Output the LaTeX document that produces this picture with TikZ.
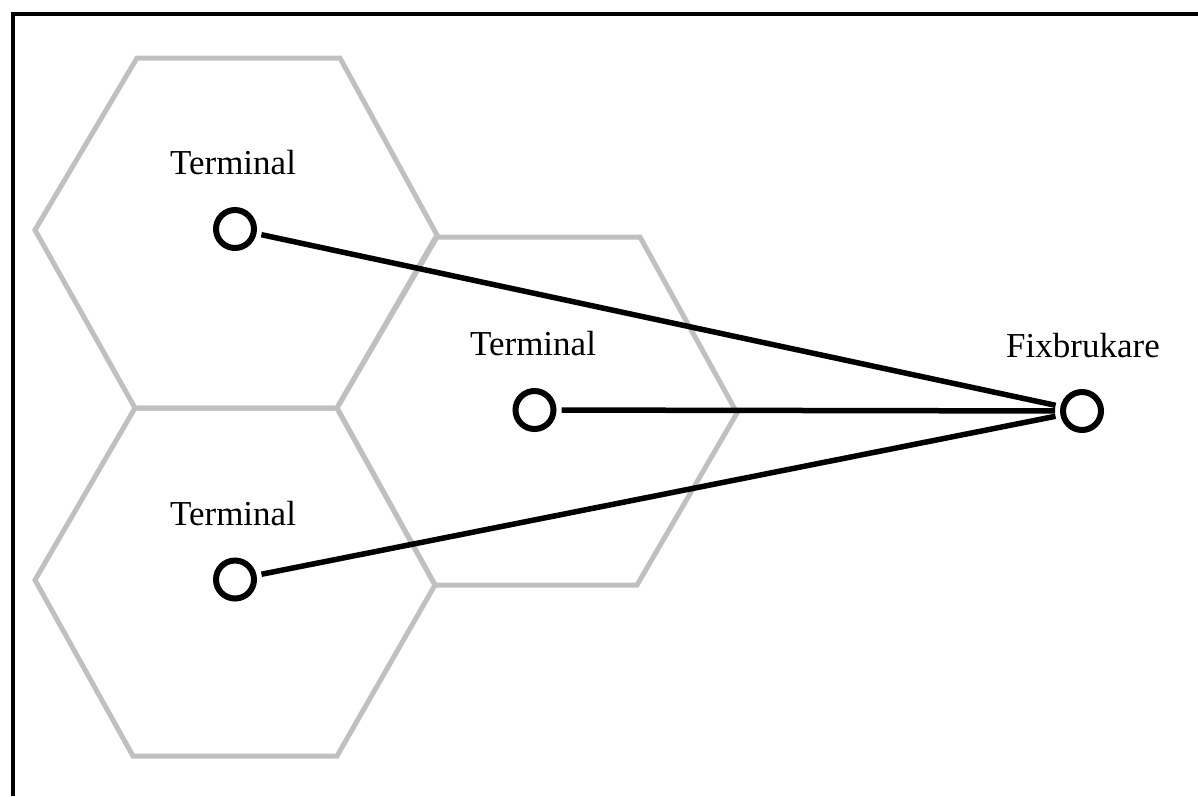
\documentclass[tikz,border=0pt]{standalone}
\usepackage{fontspec}
\setmainfont{Liberation Serif}
\definecolor{hexgray}{HTML}{C0C0C0}
\begin{document}
\begin{tikzpicture}[x=1pt,y=-1pt,
  hex/.style={draw=hexgray,line width=5pt,line join=miter},
  term/.style={circle,draw=black,line width=6pt,minimum size=38pt,inner sep=0pt},
  lbl/.style={font=\fontsize{35}{40}\selectfont,anchor=base,inner sep=0pt},
  link/.style={draw=black,line width=5.5pt,shorten <=5pt,shorten >=5pt},
  frame/.style={draw=black,line width=4pt}]
\useasboundingbox (0,0) rectangle (1198,796);
% hexagonal cells
\draw[hex] (35,230) -- (137,58) -- (340,58) -- (437,235) -- (337,408) -- (135,408) -- cycle;
\draw[hex] (337,408) -- (437,237) -- (640,237) -- (737,413) -- (637,585) -- (435,585) -- cycle;
\draw[hex] (35,580) -- (135,408) -- (337,408) -- (435,585) -- (337,756) -- (133,756) -- cycle;
% frame
\draw[frame] (12.5,796) -- (12.5,14) -- (1198,14);
% terminals
\node[term] (t1) at (235,229) {};
\node[term] (t2) at (534.5,410) {};
\node[term] (t3) at (235,579.5) {};
\node[term] (f) at (1082,411) {};
% labels
\node[lbl] (l1) at (233,174) {Terminal};
\node[lbl] (l2) at (533,355) {Terminal};
\node[lbl] (l3) at (233,525) {Terminal};
\node[lbl] (lf) at (1083,357) {Fixbrukare};
% connections
\draw[link] (t1) -- (f);
\draw[link] (t2) -- (f);
\draw[link] (t3) -- (f);
\end{tikzpicture}
\end{document}
